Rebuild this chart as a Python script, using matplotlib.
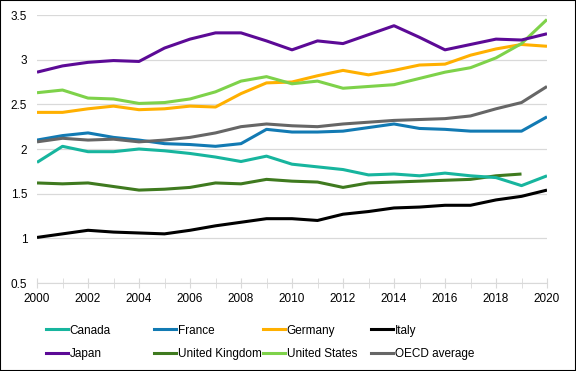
import matplotlib.pyplot as plt
import numpy as np
from matplotlib.patches import Rectangle
from matplotlib.lines import Line2D

plt.rcParams["font.family"] = ["Liberation Sans", "DejaVu Sans"]

years = list(range(2000, 2021))

canada = [1.85, 2.03, 1.97, 1.97, 2.00, 1.98, 1.95, 1.91, 1.86, 1.92, 1.83,
          1.80, 1.77, 1.71, 1.72, 1.70, 1.73, 1.70, 1.68, 1.59, 1.70]
france = [2.10, 2.15, 2.18, 2.13, 2.10, 2.06, 2.05, 2.03, 2.06, 2.22, 2.19,
          2.19, 2.20, 2.24, 2.28, 2.23, 2.22, 2.20, 2.20, 2.20, 2.36]
germany = [2.41, 2.41, 2.45, 2.48, 2.44, 2.45, 2.48, 2.47, 2.62, 2.74, 2.75,
           2.82, 2.88, 2.83, 2.88, 2.94, 2.95, 3.05, 3.12, 3.17, 3.15]
italy = [1.01, 1.05, 1.09, 1.07, 1.06, 1.05, 1.09, 1.14, 1.18, 1.22, 1.22,
         1.20, 1.27, 1.30, 1.34, 1.35, 1.37, 1.37, 1.43, 1.47, 1.54]
japan = [2.86, 2.93, 2.97, 2.99, 2.98, 3.13, 3.23, 3.30, 3.30, 3.21, 3.11,
         3.21, 3.18, 3.28, 3.38, 3.25, 3.11, 3.17, 3.23, 3.22, 3.29]
uk = [1.62, 1.61, 1.62, 1.58, 1.54, 1.55, 1.57, 1.62, 1.61, 1.66, 1.64,
      1.63, 1.57, 1.62, 1.63, 1.64, 1.65, 1.66, 1.70, 1.72, np.nan]
us = [2.63, 2.66, 2.57, 2.56, 2.51, 2.52, 2.56, 2.64, 2.76, 2.81, 2.73,
      2.76, 2.68, 2.70, 2.72, 2.79, 2.86, 2.91, 3.02, 3.18, 3.45]
oecd = [2.08, 2.12, 2.10, 2.11, 2.08, 2.10, 2.13, 2.18, 2.25, 2.28, 2.26,
        2.25, 2.28, 2.30, 2.32, 2.33, 2.34, 2.37, 2.45, 2.52, 2.70]

names = ["Canada", "France", "Germany", "Italy",
         "Japan", "United Kingdom", "United States", "OECD average"]
series = [canada, france, germany, italy, japan, uk, us, oecd]
colors = ["#17B59E", "#127AB3", "#FFB000", "#000000",
          "#5C0A96", "#3F7A1F", "#7ED24A", "#666666"]

fig = plt.figure(figsize=(5.76, 3.71), dpi=100)
ax = fig.add_axes([37 / 576, 1 - 283 / 371, 510 / 576, 268 / 371])

# draw order: back to front roughly like the original
for i in [3, 5, 0, 1, 7, 2, 6, 4]:
    ax.plot(years, series[i], color=colors[i], lw=2.2, solid_capstyle="butt")

ax.set_xlim(2000, 2020)
ax.set_ylim(0.5, 3.5)
ax.set_yticks(np.arange(0.5, 3.51, 0.5))
ax.set_yticklabels(["0.5", "1", "1.5", "2", "2.5", "3", "3.5"])
ax.set_xticks(range(2000, 2021, 2))
ax.set_xticks(range(2000, 2021), minor=True)
ax.grid(axis="y", color="#D9D9D9", lw=0.9)
ax.set_axisbelow(True)

for side in ["left", "right", "top"]:
    ax.spines[side].set_visible(False)
ax.spines["bottom"].set_color("#D9D9D9")
ax.tick_params(axis="y", length=0, labelsize=8.5, pad=7)
ax.tick_params(axis="x", which="both", direction="inout", length=7,
               color="#D9D9D9", labelsize=8.5, pad=4)

# legend laid out in four evenly spaced columns like the original
for k in range(4):
    handles = [Line2D([], [], color=colors[k], lw=2.2),
               Line2D([], [], color=colors[k + 4], lw=2.2)]
    fig.legend(handles, [names[k], names[k + 4]],
               loc="upper left",
               bbox_to_anchor=((42 + 108.5 * k) / 576, 1 - 321 / 371),
               frameon=False, fontsize=8.5, handlelength=1.9,
               handletextpad=0.15, labelspacing=1.0,
               borderaxespad=0, borderpad=0.3)

fig.patches.append(Rectangle((0, 0), 1, 1, transform=fig.transFigure,
                             fill=False, edgecolor="black", lw=1.5))

fig.savefig("out.png", dpi=100)
